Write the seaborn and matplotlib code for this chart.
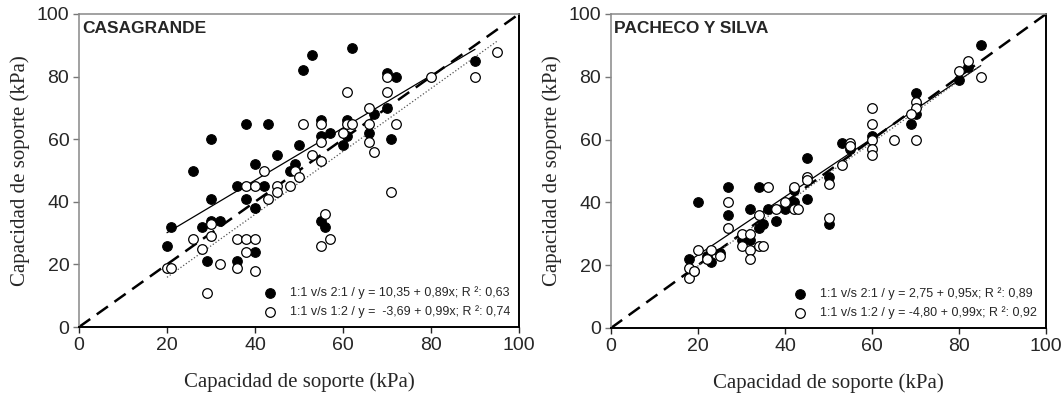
import numpy as np
import pandas as pd
import matplotlib
matplotlib.use("Agg")
import matplotlib.pyplot as plt
import seaborn as sns

# CASAGRANDE - 1:1 v/s 2:1 (puntos rellenos)
cas_x_21 = [53, 62, 51, 70, 72, 90, 70, 67, 38, 43, 55, 61, 55, 57, 61, 66, 71, 60, 50, 30,
            45, 40, 49, 48, 26, 36, 42, 30, 38, 40, 21, 28, 30, 32, 20, 29, 36, 40, 55, 56]
cas_y_21 = [87, 89, 82, 81, 80, 85, 70, 68, 65, 65, 66, 66, 61, 62, 61, 62, 60, 58, 58, 60,
            55, 52, 52, 50, 50, 45, 45, 41, 41, 38, 32, 32, 34, 34, 26, 21, 21, 24, 34, 32]
# CASAGRANDE - 1:1 v/s 1:2 (puntos vacios)
cas_x_12 = [95, 90, 80, 70, 70, 61, 66, 51, 55, 61, 62, 66, 72, 60, 55, 66, 67, 53, 55, 42,
            49, 50, 48, 38, 40, 45, 45, 71, 43, 56, 57, 55, 30, 30, 26, 28, 36, 38, 40, 38,
            32, 36, 40, 20, 21, 29]
cas_y_12 = [88, 80, 80, 80, 75, 75, 70, 65, 65, 65, 65, 65, 65, 62, 59, 59, 56, 55, 53, 50,
            50, 48, 45, 45, 45, 45, 43, 43, 41, 36, 28, 26, 33, 29, 28, 25, 28, 28, 28, 24,
            20, 19, 18, 19, 19, 11]

# PACHECO Y SILVA - 1:1 v/s 2:1
pys_x_21 = [85, 82, 80, 70, 70, 69, 60, 53, 55, 45, 50, 34, 27, 42, 45, 20, 27, 32, 36, 40,
            42, 38, 34, 35, 50, 30, 32, 18, 22, 23, 25, 19]
pys_y_21 = [90, 83, 79, 75, 68, 65, 61, 59, 57, 54, 48, 45, 45, 44, 41, 40, 36, 38, 38, 38,
            40, 34, 32, 33, 33, 28, 28, 22, 23, 21, 24, 18]
# PACHECO Y SILVA - 1:1 v/s 1:2
pys_x_12 = [82, 80, 85, 70, 70, 69, 60, 60, 60, 60, 60, 65, 70, 55, 55, 53, 45, 45, 50, 42,
            36, 27, 27, 40, 38, 42, 43, 34, 50, 30, 32, 30, 32, 34, 35, 32, 20, 23, 22, 25,
            18, 18, 19]
pys_y_12 = [85, 82, 80, 72, 70, 68, 70, 65, 60, 57, 55, 60, 60, 59, 58, 52, 48, 47, 46, 45,
            45, 40, 32, 40, 38, 38, 38, 36, 35, 30, 30, 26, 25, 26, 26, 22, 25, 25, 22, 23,
            19, 16, 18]

ticks = [0, 20, 40, 60, 80, 100]

sns.set_style("ticks")
plt.rcParams['font.family'] = ['Liberation Sans', 'DejaVu Sans']

fig = plt.figure(figsize=(10.64, 3.96), dpi=100)
ax1 = fig.add_axes([79 / 1064, 1 - 327 / 396, 440 / 1064, 313 / 396])
ax2 = fig.add_axes([611 / 1064, 1 - 328 / 396, 435 / 1064, 314 / 396])


def dibujar_panel(ax, x21, y21, x12, y12, titulo, lab21, lab12):
    df21 = pd.DataFrame({'x': x21, 'y': y21})
    df12 = pd.DataFrame({'x': x12, 'y': y12})

    # linea 1:1
    ax.plot([0, 100], [0, 100], color='black', lw=1.8, dashes=(5.5, 3.2), zorder=1)

    # rectas de regresion
    sns.regplot(data=df21, x='x', y='y', scatter=False, ci=None, truncate=True, ax=ax,
                line_kws=dict(color='black', lw=0.9, zorder=2))
    sns.regplot(data=df12, x='x', y='y', scatter=False, ci=None, truncate=True, ax=ax,
                line_kws=dict(color='#555555', lw=0.9, ls=':', zorder=2))

    sns.scatterplot(data=df21, x='x', y='y', ax=ax, color='black', edgecolor='black',
                    s=48, linewidth=0.8, label=lab21, zorder=3)
    sns.scatterplot(data=df12, x='x', y='y', ax=ax, color='white', edgecolor='black',
                    s=48, linewidth=0.9, label=lab12, zorder=4)

    ax.set_xlim(0, 100)
    ax.set_ylim(0, 100)
    ax.set_xticks(ticks)
    ax.set_yticks(ticks)
    ax.tick_params(axis='both', labelsize=14, direction='out', length=4, width=1, pad=3)
    ax.tick_params(axis='y', color='#777777')

    ax.spines['top'].set_color('#888888')
    ax.spines['left'].set_color('#888888')
    ax.spines['bottom'].set_color('black')
    ax.spines['right'].set_color('black')
    for s in ['top', 'left']:
        ax.spines[s].set_linewidth(1.1)
    for s in ['bottom', 'right']:
        ax.spines[s].set_linewidth(1.4)

    ax.set_xlabel('Capacidad de soporte (kPa)', family='Liberation Serif', fontsize=15,
                  labelpad=13)
    ax.set_ylabel('Capacidad de soporte (kPa)', family='Liberation Serif', fontsize=15,
                  labelpad=5)

    ax.text(0.008, 0.977, titulo, transform=ax.transAxes, fontsize=12.5, fontweight='bold',
            ha='left', va='top')

    ax.legend(loc='lower right', frameon=False, fontsize=9, handletextpad=1.0,
              labelspacing=0.5, borderaxespad=0.3, handlelength=1.2)


dibujar_panel(ax1, cas_x_21, cas_y_21, cas_x_12, cas_y_12, 'CASAGRANDE',
              '1:1 v/s 2:1 / y = 10,35 + 0,89x; R \u00b2: 0,63',
              '1:1 v/s 1:2 / y =  -3,69 + 0,99x; R \u00b2: 0,74')
dibujar_panel(ax2, pys_x_21, pys_y_21, pys_x_12, pys_y_12, 'PACHECO Y SILVA',
              '1:1 v/s 2:1 / y = 2,75 + 0,95x; R \u00b2: 0,89',
              '1:1 v/s 1:2 / y = -4,80 + 0,99x; R \u00b2: 0,92')

fig.savefig('out.png', dpi=100)
